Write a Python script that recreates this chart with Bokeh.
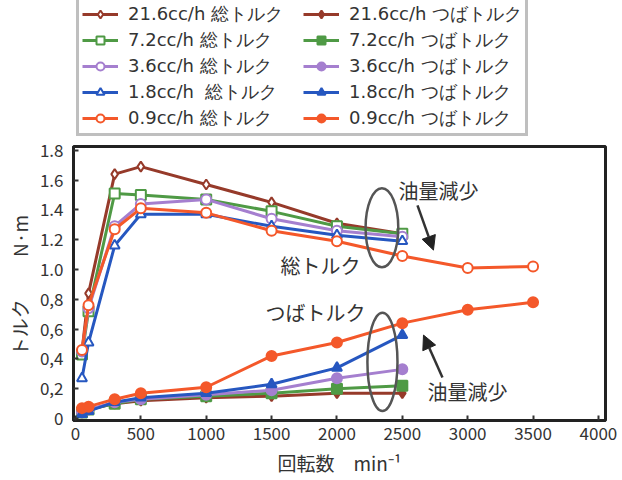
from bokeh.plotting import figure
from bokeh.layouts import column
from bokeh.models import Legend, LegendItem, FixedTicker, Arrow, NormalHead, Range1d
from bokeh.core.properties import value
from bokeh.embed import file_html
from bokeh.resources import INLINE

# ---- data ----
rpm = [50, 100, 300, 500, 1000, 1500, 2000, 2500]
rpm_09 = [50, 100, 300, 500, 1000, 1500, 2000, 2500, 3000, 3500]

total_216 = [0.45, 0.84, 1.64, 1.69, 1.57, 1.45, 1.31, 1.24]
total_72 = [0.43, 0.72, 1.51, 1.50, 1.47, 1.39, 1.29, 1.24]
total_36 = [0.45, 0.74, 1.29, 1.44, 1.47, 1.34, 1.26, 1.22]
total_18 = [0.27, 0.51, 1.16, 1.37, 1.37, 1.29, 1.23, 1.19]
total_09 = [0.46, 0.76, 1.27, 1.41, 1.38, 1.26, 1.19, 1.09, 1.01, 1.02]

flange_216 = [0.04, 0.06, 0.10, 0.12, 0.14, 0.15, 0.17, 0.17]
flange_72 = [0.04, 0.06, 0.10, 0.13, 0.15, 0.17, 0.20, 0.22]
flange_36 = [0.04, 0.06, 0.11, 0.13, 0.16, 0.19, 0.27, 0.33]
flange_18 = [0.03, 0.05, 0.11, 0.14, 0.17, 0.23, 0.34, 0.56]
flange_09 = [0.07, 0.08, 0.13, 0.17, 0.21, 0.42, 0.51, 0.64, 0.73, 0.78]

flow_labels = ["21.6cc/h", "7.2cc/h", "3.6cc/h", "1.8cc/h ", "0.9cc/h"]
x_ticks = [0, 500, 1000, 1500, 2000, 2500, 3000, 3500, 4000]
y_ticks = [0, 0.2, 0.4, 0.6, 0.8, 1.0, 1.2, 1.4, 1.6, 1.8]
y_tick_labels = ["0", "0,2", "0,4", "0,6", "0,8", "1.0", "1.2", "1.4", "1.6", "1.8"]

# annotations
ell_x = [2344, 2348]
ell_y = [1.28, 0.38]
ell_w = [250, 230]
ell_h = [0.53, 0.66]
note_x = [2470, 2692]
note_y = [1.53, 0.18]
note_text = ["油量減少", "油量減少"]
arrow_start = [(2616, 1.43), (2807, 0.275)]
arrow_end = [(2738, 1.13), (2662, 0.56)]
label_x = [1568, 1453]
label_y = [1.03, 0.71]
label_text = ["総トルク", "つばトルク"]

FONT = "Noto Sans CJK JP"
LEG_FONT = "DejaVu Sans"
colors = ["#963a2a", "#4f9a45", "#a57fcf", "#2657c0", "#f4582a"]
markers = ["diamond", "square", "circle", "triangle", "circle"]

# ---------------- main plot ----------------
p = figure(width=622, height=343, output_backend="svg", toolbar_location=None,
           x_range=Range1d(-15, 4054), y_range=Range1d(-0.013, 1.825),
           min_border_left=73, min_border_right=17, min_border_top=9,
           min_border_bottom=60)
p.background_fill_color = "white"
p.border_fill_color = "white"
p.outline_line_color = "#222222"
p.outline_line_width = 3
p.xgrid.visible = False
p.ygrid.visible = False

p.xaxis.ticker = FixedTicker(ticks=x_ticks)
p.yaxis.ticker = FixedTicker(ticks=y_ticks)
p.yaxis.major_label_overrides = {t: l for t, l in zip(y_ticks, y_tick_labels)}
for ax in (p.xaxis, p.yaxis):
    ax.axis_line_color = "#222222"
    ax.axis_line_width = 3
    ax.major_tick_in = 5
    ax.major_tick_out = 0
    ax.major_tick_line_color = "#333333"
    ax.major_tick_line_width = 2
    ax.minor_tick_line_color = None
    ax.major_label_text_font = FONT
    ax.major_label_text_font_size = "17px"
    ax.major_label_text_color = "#333333"
    ax.axis_label_text_font = FONT
    ax.axis_label_text_font_size = "19px"
    ax.axis_label_text_font_style = "normal"
    ax.axis_label_text_color = "#333333"
p.xaxis.axis_label = "回転数　min⁻¹"
p.yaxis.axis_label = "トルク　　  N·m"
p.xaxis.major_label_standoff = 6
p.yaxis.major_label_standoff = 10
p.xaxis.axis_label_standoff = 6
p.yaxis.axis_label_standoff = 4

total_series = [total_216, total_72, total_36, total_18, total_09]
flange_series = [flange_216, flange_72, flange_36, flange_18, flange_09]
xs_series = [rpm, rpm, rpm, rpm, rpm_09]

for c, m, tot, fl, xs in zip(colors, markers, total_series, flange_series, xs_series):
    p.line(xs, tot, line_color=c, line_width=3)
    p.scatter(xs, tot, marker=m, size=10, line_color=c, line_width=2, fill_color="white")
    p.line(xs, fl, line_color=c, line_width=3)
    p.scatter(xs, fl, marker=m, size=10, line_color=c, line_width=2, fill_color=c)

p.ellipse(ell_x, ell_y, width=ell_w, height=ell_h, fill_color=None,
          line_color="#555555", line_width=2.5)
for (x0, y0), (x1, y1) in zip(arrow_start, arrow_end):
    p.add_layout(Arrow(x_start=x0, y_start=y0, x_end=x1, y_end=y1,
                       line_color="#333333", line_width=2.5,
                       end=NormalHead(size=14, fill_color="#222222", line_color="#222222")))
p.text(note_x, note_y, text=note_text, text_font=value(FONT), text_font_size="20px",
       text_color="#333333", text_baseline="middle", text_align="left")
p.text(label_x, label_y, text=label_text, text_font=value(FONT), text_font_size="20px",
       text_color="#333333", text_baseline="middle", text_align="left")

# ---------------- legend strip ----------------
lf = figure(width=622, height=137, output_backend="svg", toolbar_location=None,
            x_range=Range1d(0, 1), y_range=Range1d(0, 1),
            min_border_left=0, min_border_right=0, min_border_top=0, min_border_bottom=0)
lf.axis.visible = False
lf.xgrid.visible = False
lf.ygrid.visible = False
lf.outline_line_color = None
lf.background_fill_color = "white"
lf.border_fill_color = "white"

nan = [float("nan")]
tot_items = []
fl_items = []
for lab, c, m in zip(flow_labels, colors, markers):
    l1 = lf.line(nan, nan, line_color=c, line_width=3)
    s1 = lf.scatter(nan, nan, marker=m, size=10, line_color=c, line_width=2, fill_color="white")
    l2 = lf.line(nan, nan, line_color=c, line_width=3)
    s2 = lf.scatter(nan, nan, marker=m, size=10, line_color=c, line_width=2, fill_color=c)
    tot_items.append(LegendItem(label=lab + " 総トルク　", renderers=[l1, s1]))
    fl_items.append(LegendItem(label=lab.strip() + " つばトルク", renderers=[l2, s2]))

legend = Legend(items=tot_items + fl_items, ncols=2, location=(3, 1))
legend.label_text_font = LEG_FONT
legend.label_text_font_size = "18px"
legend.label_text_color = "#333333"
legend.glyph_width = 36
legend.glyph_height = 20
legend.label_height = 20
legend.label_standoff = 10
legend.spacing = 2
legend.padding = 3
legend.margin = 0
legend.border_line_color = "#808080"
legend.border_line_width = 3
legend.background_fill_color = "white"
legend.background_fill_alpha = 1.0
lf.add_layout(legend, "center")

open("out.html", "w").write(file_html(column(lf, p, spacing=0), INLINE))
